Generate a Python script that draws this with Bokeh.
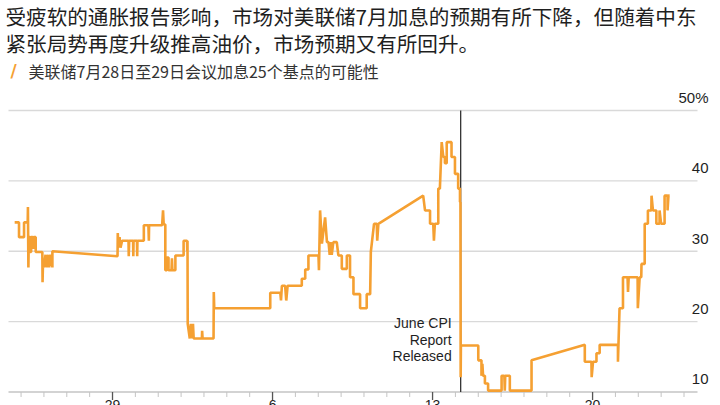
import pandas as pd
from bokeh.plotting import figure
from bokeh.models import Range1d, ColumnDataSource
from bokeh.core.properties import value
from bokeh.embed import file_html
from bokeh.resources import INLINE

# ---------------- data ----------------
title_lines = ["受疲软的通胀报告影响，市场对美联储7月加息的预期有所下降，但随着中东",
               "紧张局势再度升级推高油价，市场预期又有所回升。"]
series_name = "美联储7月28日至29日会议加息25个基点的可能性"
base_date = "2026-06-29"          # first labelled tick ("29")
# days after base_date, probability (%)
days = [-4.28, -4.09, -4.09, -3.87, -3.87, -3.71, -3.70, -3.68, -3.66, -3.60, -3.60, -3.56,
        -3.56, -3.49, -3.49, -3.45, -3.45, -3.36, -3.36, -3.07, -3.06, -3.04, -3.00, -2.93,
        -2.88, -2.82, -2.77, -2.71, -2.63, -2.63, 0.22, 0.23, 0.26, 0.31, 0.35, 0.42,
        0.70, 0.71, 0.73, 0.90, 0.91, 0.92, 1.07, 1.08, 1.09, 1.37, 1.37, 1.57,
        1.59, 1.60, 2.17, 2.21, 2.24, 2.31, 2.31, 2.38, 2.38, 2.45, 2.45, 2.58,
        2.60, 2.62, 2.75, 2.75, 3.11, 3.11, 3.26, 3.27, 3.28, 3.29, 3.38, 3.43,
        3.47, 3.52, 3.55, 3.91, 3.92, 3.94, 4.42, 4.43, 4.45, 6.90, 6.90, 7.34,
        7.37, 7.41, 7.55, 7.60, 7.66, 8.28, 8.28, 8.43, 8.43, 8.57, 8.57, 9.01,
        9.03, 9.08, 9.16, 9.30, 9.38, 9.45, 9.50, 9.54, 9.59, 9.66, 9.81, 9.88,
        10.03, 10.03, 10.25, 10.25, 10.39, 10.39, 10.54, 10.54, 10.83, 10.83, 11.12, 11.12,
        11.27, 11.30, 11.44, 11.56, 11.58, 11.63, 13.59, 13.67, 13.89, 13.89, 14.03, 14.06,
        14.10, 14.25, 14.25, 14.32, 14.40, 14.47, 14.54, 14.54, 14.62, 14.62, 14.83, 14.83,
        14.98, 14.98, 15.12, 15.12, 15.20, 15.20, 15.22, 15.23, 15.24, 16.00, 16.00, 16.14,
        16.14, 16.18, 16.21, 16.29, 16.29, 16.43, 16.43, 17.02, 17.02, 17.14, 17.16, 17.18,
        17.38, 17.38, 18.33, 18.33, 20.66, 20.66, 20.95, 20.96, 21.02, 21.17, 21.17, 21.31,
        21.31, 22.11, 22.11, 22.18, 22.33, 22.33, 22.53, 22.55, 22.58, 22.97, 22.98, 23.06,
        23.13, 23.14, 23.28, 23.28, 23.42, 23.42, 23.57, 23.58, 23.64, 23.79, 23.79, 23.93,
        23.93, 24.00, 24.15, 24.15, 24.28, 24.28, 24.32, 24.37]
values = [34.1, 34.1, 32.0, 32.0, 34.1, 34.1, 36.3, 27.7, 32.0, 32.0, 29.9, 29.9,
          32.0, 32.0, 30.5, 30.5, 32.0, 32.0, 29.9, 29.9, 25.6, 28.5, 27.7, 29.5,
          27.7, 29.5, 27.7, 29.5, 27.7, 30.0, 29.3, 32.6, 30.5, 32.0, 30.5, 31.5,
          31.5, 29.3, 31.5, 31.5, 29.3, 31.5, 31.5, 29.3, 31.5, 31.5, 33.7, 33.7,
          31.5, 33.7, 33.7, 35.8, 33.8, 33.8, 27.3, 27.3, 29.1, 29.1, 27.3, 27.3,
          29.0, 27.3, 27.3, 29.4, 29.4, 31.5, 31.5, 30.0, 31.5, 19.7, 17.6, 19.7,
          17.6, 19.7, 17.6, 17.6, 18.7, 17.6, 17.6, 24.2, 21.9, 21.9, 24.1, 24.1,
          23.0, 25.1, 25.1, 23.0, 25.1, 25.1, 26.1, 26.1, 27.4, 27.4, 29.4, 29.4,
          27.3, 35.8, 31.1, 34.8, 31.3, 31.3, 29.5, 31.3, 29.5, 31.3, 31.3, 29.4,
          29.4, 27.5, 27.5, 29.4, 29.4, 26.3, 26.3, 23.9, 23.9, 21.9, 21.9, 23.9,
          23.9, 29.9, 33.9, 33.9, 31.5, 33.9, 37.9, 35.8, 35.8, 33.9, 33.9, 31.5,
          33.9, 33.9, 38.9, 38.9, 45.5, 43.4, 43.4, 42.5, 42.5, 45.5, 45.5, 43.4,
          43.4, 41.0, 41.0, 38.9, 38.9, 37.0, 37.0, 12.1, 16.6, 16.6, 14.5, 14.5,
          12.3, 14.0, 12.3, 12.3, 11.2, 11.2, 10.2, 10.2, 12.3, 12.3, 10.2, 12.3,
          12.3, 10.2, 10.2, 14.5, 16.7, 14.3, 14.3, 12.1, 14.3, 14.3, 15.5, 15.5,
          16.7, 16.7, 14.3, 21.9, 21.9, 26.3, 26.3, 24.2, 26.3, 26.3, 21.9, 26.3,
          26.3, 28.2, 28.2, 33.9, 33.9, 35.8, 35.8, 37.9, 35.8, 35.8, 33.9, 33.9,
          35.8, 33.9, 33.9, 37.9, 37.9, 35.8, 37.9, 37.9]
cpi_day = 15.23
cpi_lines = ["June CPI", "Report", "Released"]
x_major_days = [0, 7, 14, 21]
x_major_labels = ["29", "6", "13", "20"]
x_minor_days = list(range(-4, 26))
y_base = 10
y_grid = [20, 30, 40, 50]
y_ticks = [10, 20, 30, 40, 50]
y_tick_labels = ["10", "20", "30", "40", "50%"]

# ---------------- geometry (canvas = 720 x 405, whole canvas is the frame) ----------------
W, H = 720, 405
PX_PER_DAY = 22.86
PX_PER_UNIT = 7.0375
X_START = -4.90                      # day at the canvas' left edge
Y_TOP = 65.63                        # value at the canvas' top edge
X_END = X_START + W / PX_PER_DAY
Y_BOTTOM = Y_TOP - H / PX_PER_UNIT

DAY = 86400000.0
base_ms = pd.Timestamp(base_date).value / 1e6
to_ms = lambda d: base_ms + d * DAY
day_at = lambda px: X_START + px / PX_PER_DAY          # for annotation placement only
val_at = lambda py: Y_TOP - py / PX_PER_UNIT
dy = lambda px: px / PX_PER_UNIT

ORANGE = "#F5A032"
DARK = "#1f1f1f"
CJK = "Noto Sans CJK SC"
SANS = "Liberation Sans"

p = figure(width=W, height=H, x_axis_type="datetime",
           x_axis_location=None, y_axis_location=None,
           x_range=Range1d(to_ms(X_START), to_ms(X_END)),
           y_range=Range1d(Y_BOTTOM, Y_TOP),
           min_border=0, min_border_left=0, min_border_right=0,
           min_border_top=0, min_border_bottom=0,
           output_backend="svg", toolbar_location=None)
p.outline_line_color = None
p.background_fill_color = "white"
p.border_fill_color = "white"
for g in p.grid:
    g.visible = False

gx0, gx1 = to_ms(day_at(8)), to_ms(day_at(697))

# horizontal grid
p.segment(x0=[gx0] * len(y_grid), y0=y_grid, x1=[gx1] * len(y_grid), y1=y_grid,
          line_color="#d9d9d9", line_width=1.3)

# x axis: base line, daily minor ticks, weekly major ticks and labels
p.segment(x0=[gx0], y0=[y_base], x1=[gx1], y1=[y_base], line_color="#c4c4c4", line_width=1.3)
mx = [to_ms(d) for d in x_minor_days]
p.segment(x0=mx, y0=[y_base] * len(mx), x1=mx, y1=[y_base - dy(5)] * len(mx),
          line_color="#c4c4c4", line_width=1)
Mx = [to_ms(d) for d in x_major_days]
p.segment(x0=Mx, y0=[y_base] * len(Mx), x1=Mx, y1=[y_base - dy(8)] * len(Mx),
          line_color="#555555", line_width=1.3)
p.text(x=Mx, y=[y_base - dy(8)] * len(Mx), text=x_major_labels,
       text_align="center", text_baseline="top",
       text_font=value(SANS), text_font_size="14px", text_color=DARK)

# y tick labels, right-aligned above each gridline
p.text(x=[to_ms(day_at(708))] * len(y_ticks), y=[v + dy(12.5) for v in y_ticks],
       text=y_tick_labels, text_align="right", text_baseline="middle",
       text_font=value(SANS), text_font_size="15px", text_color=DARK)

# CPI release marker
p.segment(x0=[to_ms(cpi_day)], y0=[y_base], x1=[to_ms(cpi_day)], y1=[50],
          line_color="#333333", line_width=1.3)
p.text(x=[to_ms(cpi_day)] * 3, y=[20.94 - dy(16.6 * i) for i in range(3)], text=cpi_lines,
       x_offset=-9, text_align="right", text_baseline="top",
       text_font=value(SANS), text_font_size="14px", text_color=DARK)

# series
src = ColumnDataSource(dict(x=[to_ms(d) for d in days], y=values))
p.line(x="x", y="y", source=src, line_color=ORANGE, line_width=2.6)

# headline and key
p.text(x=[to_ms(day_at(5))] * 2, y=[val_at(15.5), val_at(42.5)], text=title_lines,
       text_align="left", text_baseline="middle",
       text_font=value(CJK), text_font_size="20.6px", text_color=DARK)
p.text(x=[to_ms(day_at(13))], y=[val_at(70)], text=["/"],
       text_align="center", text_baseline="middle",
       text_font=value("DejaVu Sans"), text_font_style="bold",
       text_font_size="17px", text_color=ORANGE)
p.text(x=[to_ms(day_at(28))], y=[val_at(70)], text=[series_name],
       text_align="left", text_baseline="middle",
       text_font=value(CJK), text_font_size="16px", text_color="#333333")

open("out.html", "w").write(file_html(p, INLINE))
